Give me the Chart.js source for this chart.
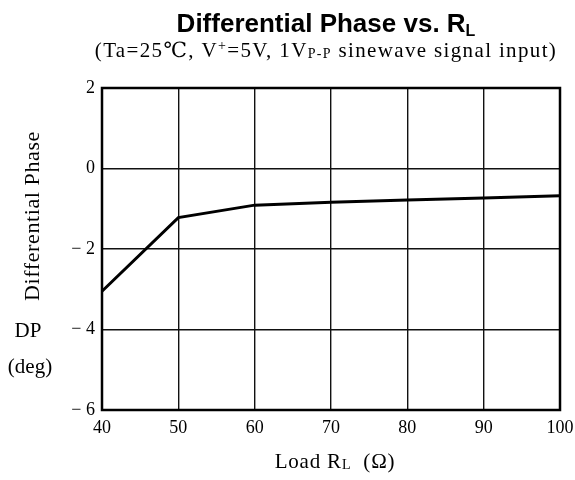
<!DOCTYPE html>
<html>
<head>
<meta charset="utf-8">
<script src="https://cdn.jsdelivr.net/npm/chart.js@4.4.0/dist/chart.umd.min.js"></script>
<style>
  html, body { margin: 0; padding: 0; background: #fff; }
  #wrap { width: 575px; height: 480px; }
</style>
</head>
<body>
<div id="wrap"><canvas id="dpChart" width="575" height="480"></canvas></div>
<script>
// values
const loadR = [40, 50, 60, 70, 80, 90, 100];
const diffPhase = [-3.05, -1.22, -0.91, -0.84, -0.78, -0.73, -0.68];
const xRange = [40, 100];
const yRange = [-6, 2];

const SERIF = '"Liberation Serif", "DejaVu Serif", serif';
const SANS = '"Liberation Sans", Arial, sans-serif';

// draws a row of text pieces (for sub/superscripts), centered on cx
let drawRuns = (ctx, runs, cx, baseline, spacing) => {
    ctx.letterSpacing = (spacing || 0) + 'px';
    let total = 0;
    runs.forEach(r => { ctx.font = r.font; total += ctx.measureText(r.text).width; });
    let x = cx - total / 2;
    ctx.textAlign = 'left';
    ctx.textBaseline = 'alphabetic';
    runs.forEach(r => {
        ctx.font = r.font;
        ctx.fillText(r.text, x, baseline + (r.dy || 0));
        x += ctx.measureText(r.text).width;
    });
    ctx.letterSpacing = '0px';
}

const textPlugin = {
    id: 'textPlugin',
    afterDraw(chart) {
        const ctx = chart.ctx;
        const a = chart.chartArea;
        ctx.save();
        ctx.fillStyle = '#000';

        // frame
        ctx.strokeStyle = '#000';
        ctx.lineWidth = 2.5;
        ctx.strokeRect(a.left, a.top, a.right - a.left, a.bottom - a.top);

        // title
        drawRuns(ctx, [
            { text: 'Differential Phase vs. R', font: 'bold 26px ' + SANS },
            { text: 'L', font: 'bold 16px ' + SANS, dy: 4 }
        ], 326, 32);

        // subtitle
        drawRuns(ctx, [
            { text: '(Ta=25℃, V', font: '21px ' + SERIF },
            { text: '+', font: '14px ' + SERIF, dy: -7 },
            { text: '=5V, 1V', font: '21px ' + SERIF },
            { text: 'P-P', font: '14px ' + SERIF, dy: 1 },
            { text: ' sinewave signal input)', font: '21px ' + SERIF }
        ], 326, 57, 1.35);

        // y axis title
        ctx.save();
        ctx.translate(33, 216);
        ctx.rotate(-Math.PI / 2);
        ctx.font = '22px ' + SERIF;
        ctx.letterSpacing = '0.6px';
        ctx.textAlign = 'center';
        ctx.textBaseline = 'middle';
        ctx.fillText('Differential Phase', 0, 0);
        ctx.restore();

        ctx.font = '21px ' + SERIF;
        ctx.textAlign = 'center';
        ctx.textBaseline = 'middle';
        ctx.fillText('DP', 28, 331);
        ctx.fillText('(deg)', 30, 367);

        // x axis title
        drawRuns(ctx, [
            { text: 'Load R', font: '21px ' + SERIF },
            { text: 'L', font: '14px ' + SERIF, dy: 1 },
            { text: '  (Ω)', font: '21px ' + SERIF }
        ], 335, 468, 0.8);

        ctx.restore();
    }
};

new Chart('dpChart', {
    type: 'line',
    data: {
        datasets: [{
            data: loadR.map((r, i) => ({ x: r, y: diffPhase[i] })),
            borderColor: '#000',
            borderWidth: 3,
            pointRadius: 0,
            tension: 0,
            fill: false
        }]
    },
    options: {
        responsive: false,
        animation: false,
        layout: { padding: { top: 88, right: 15, bottom: 0, left: 0 } },
        plugins: {
            legend: { display: false },
            title: { display: false },
            tooltip: { enabled: false }
        },
        scales: {
            x: {
                type: 'linear',
                min: xRange[0],
                max: xRange[1],
                ticks: {
                    stepSize: 10,
                    color: '#000',
                    padding: 7,
                    font: { family: SERIF, size: 18 }
                },
                grid: { color: '#111', lineWidth: 1.4, drawTicks: false },
                border: { display: false },
                afterFit: s => {
                    s.height = 70;
                    s.paddingLeft = 0;
                    s.paddingRight = 0;
                }
            },
            y: {
                min: yRange[0],
                max: yRange[1],
                ticks: {
                    stepSize: 2,
                    color: '#000',
                    padding: 7,
                    font: { family: SERIF, size: 18 },
                    callback: v => v < 0 ? '− ' + Math.abs(v) : '' + v
                },
                grid: { color: '#111', lineWidth: 1.4, drawTicks: false },
                border: { display: false },
                afterFit: s => {
                    s.width = 102;
                    s.paddingTop = 0;
                    s.paddingBottom = 0;
                }
            }
        }
    },
    plugins: [textPlugin]
});
</script>
</body>
</html>
